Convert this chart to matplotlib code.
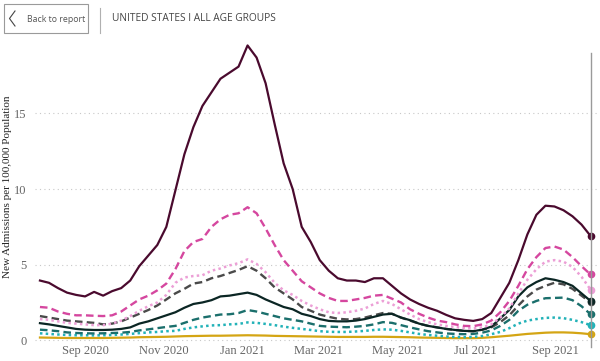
import datetime as dt

import matplotlib
matplotlib.use("Agg")
import matplotlib.dates as mdates
import matplotlib.pyplot as plt
from matplotlib.patches import Rectangle
from matplotlib.lines import Line2D

# weekly dates, Jul 28 2020 .. Sep 28 2021
start = dt.date(2020, 7, 28)
dates = [start + dt.timedelta(days=7 * i) for i in range(62)]

maroon = [3.95, 3.8, 3.45, 3.15, 3.0, 2.9, 3.2, 2.95, 3.25, 3.45,
          3.95, 4.9, 5.6, 6.3, 7.5, 9.9, 12.3, 14.1, 15.5, 16.4,
          17.3, 17.7, 18.1, 19.5, 18.7, 17.0, 14.3, 11.7, 10.0, 7.5,
          6.5, 5.3, 4.6, 4.1, 3.95, 3.95, 3.85, 4.1, 4.1, 3.6,
          3.1, 2.7, 2.4, 2.15, 1.95, 1.68, 1.45, 1.35, 1.28, 1.4,
          1.8, 2.8, 3.8, 5.3, 7.0, 8.3, 8.9, 8.85, 8.6, 8.2,
          7.65, 6.9]
magenta = [2.2, 2.15, 1.9, 1.75, 1.65, 1.65, 1.62, 1.6, 1.65, 1.9,
           2.3, 2.7, 2.95, 3.3, 3.75, 4.7, 5.9, 6.5, 6.7, 7.5,
           8.0, 8.3, 8.4, 8.8, 8.4, 7.4, 6.3, 5.3, 4.6, 3.9,
           3.5, 3.1, 2.8, 2.6, 2.6, 2.7, 2.8, 2.95, 3.0, 2.75,
           2.5, 2.05, 1.75, 1.5, 1.3, 1.2, 1.05, 0.95, 0.93, 1.05,
           1.3, 1.85, 2.6, 3.6, 4.7, 5.5, 6.1, 6.2, 6.0, 5.5,
           4.9, 4.35]
pink = [1.4, 1.35, 1.25, 1.15, 1.1, 1.05, 1.0, 1.0, 1.1, 1.3,
        1.6, 1.95, 2.25, 2.5, 3.0, 3.8, 4.15, 4.25, 4.3, 4.6,
        4.75, 4.95, 5.1, 5.35, 5.05, 4.5, 3.8, 3.3, 3.0, 2.6,
        2.3, 2.05, 1.85, 1.8, 1.85, 1.95, 2.1, 2.4, 2.6, 2.4,
        2.05, 1.7, 1.4, 1.2, 1.05, 0.95, 0.88, 0.8, 0.78, 0.85,
        1.05, 1.5, 2.1, 3.1, 4.0, 4.7, 5.2, 5.3, 5.2, 4.85,
        4.2, 3.35]
gray = [1.6, 1.5, 1.4, 1.3, 1.25, 1.2, 1.15, 1.05, 1.1, 1.25,
        1.5, 1.75, 2.0, 2.3, 2.7, 3.1, 3.4, 3.75, 3.85, 4.1,
        4.25, 4.45, 4.65, 4.9, 4.6, 4.1, 3.5, 3.1, 2.7, 2.2,
        1.95, 1.7, 1.55, 1.42, 1.38, 1.4, 1.5, 1.65, 1.8, 1.75,
        1.5, 1.3, 1.1, 0.95, 0.85, 0.75, 0.68, 0.62, 0.6, 0.7,
        0.85, 1.2, 1.65, 2.3, 2.9, 3.35, 3.6, 3.8, 3.7, 3.4,
        2.95, 2.5]
black = [1.13, 1.05, 0.95, 0.85, 0.75, 0.7, 0.68, 0.68, 0.7, 0.75,
         0.85, 1.1, 1.25, 1.45, 1.65, 1.85, 2.15, 2.4, 2.5, 2.65,
         2.9, 2.95, 3.05, 3.15, 3.0, 2.7, 2.45, 2.2, 2.05, 1.75,
         1.6, 1.4, 1.28, 1.25, 1.25, 1.3, 1.4, 1.55, 1.7, 1.75,
         1.5, 1.33, 1.1, 0.95, 0.85, 0.75, 0.68, 0.62, 0.6, 0.7,
         0.9, 1.45, 2.0, 2.9, 3.5, 3.85, 4.1, 4.0, 3.85, 3.6,
         3.1, 2.6]
teal = [0.7, 0.66, 0.6, 0.52, 0.48, 0.46, 0.45, 0.46, 0.48, 0.5,
        0.55, 0.65, 0.72, 0.8, 0.88, 0.95, 1.15, 1.35, 1.5, 1.6,
        1.7, 1.72, 1.8, 2.0, 1.9, 1.75, 1.6, 1.45, 1.35, 1.25,
        1.1, 0.95, 0.9, 0.88, 0.86, 0.9, 0.95, 1.05, 1.2, 1.15,
        1.0, 0.85, 0.72, 0.6, 0.52, 0.45, 0.42, 0.4, 0.42, 0.5,
        0.65, 0.95, 1.35, 1.95, 2.35, 2.6, 2.78, 2.8, 2.82, 2.65,
        2.25, 1.72]
cyan = [0.46, 0.42, 0.38, 0.35, 0.33, 0.33, 0.32, 0.33, 0.35, 0.38,
        0.42, 0.47, 0.52, 0.55, 0.6, 0.62, 0.75, 0.85, 0.92, 0.98,
        1.0, 1.05, 1.08, 1.18, 1.15, 1.08, 1.0, 0.9, 0.82, 0.75,
        0.68, 0.6, 0.56, 0.55, 0.55, 0.58, 0.62, 0.68, 0.72, 0.7,
        0.62, 0.52, 0.42, 0.35, 0.3, 0.25, 0.22, 0.2, 0.22, 0.28,
        0.4, 0.55, 0.8, 1.1, 1.3, 1.4, 1.48, 1.5, 1.46, 1.35,
        1.2, 1.0]
gold = [0.18, 0.17, 0.16, 0.15, 0.15, 0.15, 0.15, 0.15, 0.16, 0.17,
        0.18, 0.2, 0.21, 0.22, 0.23, 0.25, 0.27, 0.28, 0.29, 0.3,
        0.3, 0.31, 0.32, 0.33, 0.32, 0.31, 0.29, 0.28, 0.27, 0.26,
        0.25, 0.24, 0.23, 0.22, 0.22, 0.22, 0.22, 0.23, 0.23, 0.22,
        0.21, 0.2, 0.18, 0.17, 0.16, 0.15, 0.14, 0.14, 0.14, 0.16,
        0.2, 0.25, 0.3, 0.36, 0.42, 0.46, 0.5, 0.52, 0.52, 0.5,
        0.46, 0.4]

# (values, colour, linestyle) drawn back to front
series = [
    (gold, "#d4a514", "-"),
    (cyan, "#22b2b8", ":"),
    (teal, "#1b6f6c", "--"),
    (gray, "#4a4a4a", "--"),
    (black, "#0b2624", "-"),
    (pink, "#ec9fd6", ":"),
    (magenta, "#d5479f", "--"),
    (maroon, "#4a0a2e", "-"),
]

serif = "Liberation Serif"
fig = plt.figure(figsize=(6, 3.61), dpi=100)
ax = fig.add_axes([0.058, 0.047, 0.937, 0.848])

for vals, color, ls in series:
    if ls == "--":
        ax.plot(dates, vals, color=color, linewidth=1.7, dashes=(3.2, 1.8))
    elif ls == ":":
        ax.plot(dates, vals, color=color, linewidth=1.8, dashes=(1, 1.3))
    else:
        ax.plot(dates, vals, color=color, linewidth=1.6)
    ax.plot(dates[-1], vals[-1], "o", color=color, markersize=4.5)

# marker line at the latest date
ax.axvline(dates[-1], ymin=-0.01, ymax=0.951, color="#9a9a9a", linewidth=1,
           clip_on=False)

ax.set_xlim(dt.date(2020, 7, 24), dt.date(2021, 10, 3))
ax.set_ylim(-0.25, 20.0)
ax.set_yticks([0, 5, 10, 15])
ax.yaxis.grid(True, linestyle=(0, (1, 3)), color="#c8c8c8", linewidth=0.8)
ax.set_axisbelow(True)

ticks = [dt.date(2020, 9, 1), dt.date(2020, 11, 1), dt.date(2021, 1, 1),
         dt.date(2021, 3, 1), dt.date(2021, 5, 1), dt.date(2021, 7, 1),
         dt.date(2021, 9, 1)]
ax.set_xticks(ticks)
ax.xaxis.set_major_formatter(mdates.DateFormatter("%b %Y"))
for lab in ax.get_xticklabels() + ax.get_yticklabels():
    lab.set_fontfamily(serif)
    lab.set_color("#666666")
    lab.set_fontsize(9)
ax.tick_params(axis="x", length=0, pad=1)
ax.tick_params(axis="y", length=0, pad=6)
for s in ax.spines.values():
    s.set_visible(False)

fig.text(7.5 / 600, 1 - 187 / 361, "New Admissions per 100,000 Population",
         rotation=90, ha="center", va="center", fontfamily=serif,
         fontsize=8, color="#222222")

# header
fig.patches.append(Rectangle((4 / 600, 1 - 33 / 361), 84 / 600, 29 / 361,
                             transform=fig.transFigure, fill=False,
                             edgecolor="#9a9a9a", linewidth=0.8))
fig.lines.append(Line2D([15 / 600, 9.5 / 600, 15 / 600],
                        [1 - 11 / 361, 1 - 18.5 / 361, 1 - 26 / 361],
                        transform=fig.transFigure, color="#444444", linewidth=0.8))
fig.text(27 / 600, 1 - 19 / 361, "Back to report", fontsize=6.3,
         color="#555555", va="center", ha="left", family="Open Sans")
fig.lines.append(Line2D([100 / 600, 100 / 600], [1 - 8 / 361, 1 - 33 / 361],
                        transform=fig.transFigure, color="#b0b0b0", linewidth=0.8))
fig.text(112 / 600, 1 - 18.5 / 361, "UNITED STATES I ALL AGE GROUPS", fontsize=7.3,
         color="#444444", va="center", ha="left", family="Open Sans")

fig.savefig("out.png", dpi=100)
